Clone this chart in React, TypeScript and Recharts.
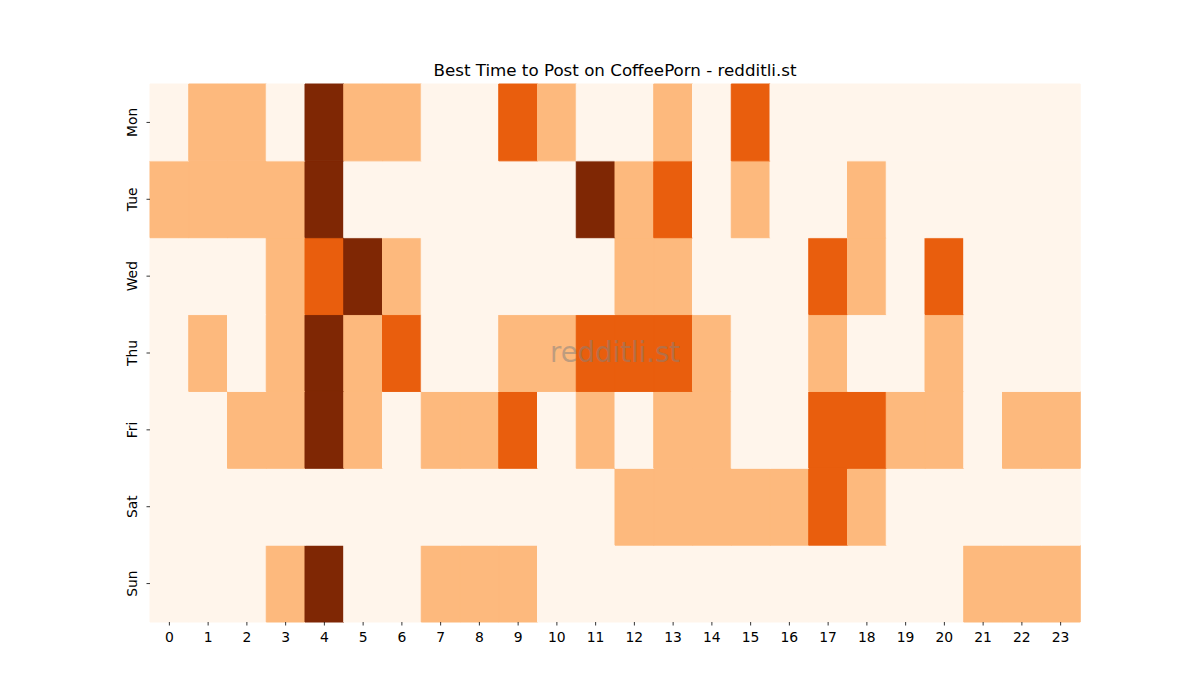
import React from 'react';
import { BarChart, Bar, XAxis, YAxis, Cell } from 'recharts';

const days = ['Mon', 'Tue', 'Wed', 'Thu', 'Fri', 'Sat', 'Sun'];
const hours = ['0','1','2','3','4','5','6','7','8','9','10','11','12','13','14','15','16','17','18','19','20','21','22','23'];

// activity level per hour (0 = low ... 3 = best)
const monLevels = [0,1,1,0,3,1,1,0,0,2,1,0,0,1,0,2,0,0,0,0,0,0,0,0];
const tueLevels = [1,1,1,1,3,0,0,0,0,0,0,3,1,2,0,1,0,0,1,0,0,0,0,0];
const wedLevels = [0,0,0,1,2,3,1,0,0,0,0,0,1,1,0,0,0,2,1,0,2,0,0,0];
const thuLevels = [0,1,0,1,3,1,2,0,0,1,1,2,2,2,1,0,0,1,0,0,1,0,0,0];
const friLevels = [0,0,1,1,3,1,0,1,1,2,0,1,0,1,1,0,0,2,2,1,1,0,1,1];
const satLevels = [0,0,0,0,0,0,0,0,0,0,0,0,1,1,1,1,1,2,1,0,0,0,0,0];
const sunLevels = [0,0,0,1,3,0,0,1,1,1,0,0,0,0,0,0,0,0,0,0,0,1,1,1];

const levelsByDay: Record<string, number[]> = {
  Mon: monLevels, Tue: tueLevels, Wed: wedLevels, Thu: thuLevels,
  Fri: friLevels, Sat: satLevels, Sun: sunLevels,
};

const palette = ['#fff5eb', '#fdb97d', '#e95e0d', '#7f2704'];

const data = hours.map((h) => {
  const row: Record<string, string | number> = { hour: h };
  days.forEach((d) => { row[d] = 1; });
  return row;
});

// bottom-to-top stacking order
const stackOrder = [...days].reverse();
const yTicks = [0.5, 1.5, 2.5, 3.5, 4.5, 5.5, 6.5];
const yTickLabels = [...days].reverse();

const FONT = 'DejaVu Sans, sans-serif';

const YTick = (props: any) => {
  const { y, payload } = props;
  const idx = yTicks.indexOf(payload.value);
  const label = idx >= 0 ? yTickLabels[idx] : '';
  return (
    <g>
      <line x1={146.5} x2={150} y1={y} y2={y} stroke="#000" strokeWidth={0.8} />
      <text
        x={137}
        y={y}
        transform={`rotate(-90, 137, ${y})`}
        textAnchor="middle"
        fontSize={13.9}
        fontFamily={FONT}
        fill="#000"
      >
        {label}
      </text>
    </g>
  );
};

const XTick = (props: any) => {
  const { x, payload } = props;
  return (
    <g>
      <line x1={x} x2={x} y1={622} y2={625.5} stroke="#000" strokeWidth={0.8} />
      <text x={x} y={642} textAnchor="middle" fontSize={13.9} fontFamily={FONT} fill="#000">
        {payload.value}
      </text>
    </g>
  );
};

export default function App() {
  return (
    <div style={{ position: 'absolute', left: 0, top: 0, width: 1200, height: 700, background: '#fff' }}>
      <BarChart
        width={1200}
        height={700}
        data={data}
        margin={{ top: 84, right: 120, bottom: 48, left: 100 }}
        barCategoryGap={0}
        barGap={0}
      >
        <XAxis
          dataKey="hour"
          type="category"
          axisLine={false}
          tickLine={false}
          height={30}
          interval={0}
          tick={<XTick />}
        />
        <YAxis
          type="number"
          domain={[0, 7]}
          ticks={yTicks}
          axisLine={false}
          tickLine={false}
          width={50}
          interval={0}
          tick={<YTick />}
        />
        {stackOrder.map((day) => (
          <Bar key={day} dataKey={day} stackId="a" isAnimationActive={false}>
            {levelsByDay[day].map((lv, i) => (
              <Cell key={i} fill={palette[lv]} stroke={palette[lv]} strokeWidth={1} />
            ))}
          </Bar>
        ))}
      </BarChart>
      <div
        style={{
          position: 'absolute', left: 150, width: 930, top: 60, textAlign: 'center',
          fontFamily: FONT, fontSize: 16.7, color: '#000', lineHeight: '20px',
        }}
      >
        Best Time to Post on CoffeePorn - redditli.st
      </div>
      <div
        style={{
          position: 'absolute', left: 150, width: 930, top: 336, textAlign: 'center',
          fontFamily: FONT, fontSize: 27.5, color: 'rgba(128,128,128,0.5)', lineHeight: '32px',
          pointerEvents: 'none',
        }}
      >
        redditli.st
      </div>
    </div>
  );
}
